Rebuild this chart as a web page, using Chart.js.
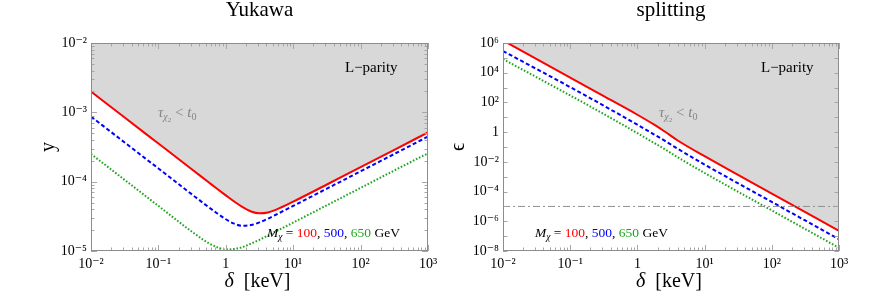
<!DOCTYPE html>
<html>
<head>
<meta charset="utf-8">
<title>Yukawa / splitting</title>
<script src="https://cdn.jsdelivr.net/npm/chart.js@4.4.1/dist/chart.umd.min.js"></script>
<style>
  html, body { margin: 0; padding: 0; background: #fff; }
  #wrap { position: relative; width: 888px; height: 294px; }
  .panel { position: absolute; top: 0; width: 444px; height: 294px; }
</style>
</head>
<body>
<div id="wrap">
  <div class="panel" style="left:0"><canvas id="yukawa" width="444" height="294"></canvas></div>
  <div class="panel" style="left:444px"><canvas id="splitting" width="444" height="294"></canvas></div>
</div>
<script>
// ---- data ----
const masses = ['100', '500', '650'];

// left panel: Yukawa coupling y vs delta [keV]
const deltaYukawa = [0.01, 0.0316, 0.1, 0.316, 0.562, 0.75, 1, 1.33, 1.78, 2.37, 3.16, 4.22, 5.62, 10, 31.6, 100, 316, 1000];
const yukawa100 = [2.0e-3, 8.4e-4, 3.55e-4, 1.5e-4, 9.72e-5, 7.83e-5, 6.34e-5, 5.17e-5, 4.29e-5, 3.72e-5, 3.50e-5, 3.60e-5, 3.96e-5, 5.15e-5, 9.1e-5, 1.62e-4, 2.88e-4, 5.13e-4];
const yukawa500 = [8.7e-4, 3.67e-4, 1.55e-4, 6.53e-5, 4.26e-5, 3.47e-5, 2.87e-5, 2.48e-5, 2.31e-5, 2.37e-5, 2.59e-5, 2.93e-5, 3.36e-5, 4.47e-5, 7.94e-5, 1.41e-4, 2.51e-4, 4.47e-4];
const yukawa650 = [2.51e-4, 1.06e-4, 4.47e-5, 1.89e-5, 1.29e-5, 1.13e-5, 1.05e-5, 1.07e-5, 1.14e-5, 1.28e-5, 1.45e-5, 1.67e-5, 1.93e-5, 2.57e-5, 4.57e-5, 8.13e-5, 1.45e-4, 2.57e-4];

// right panel: splitting epsilon vs delta [keV]
const deltaSplit = [0.01, 0.1, 0.316, 1, 1.78, 2.51, 3.98, 10, 100, 1000];
const split100 = [1.48e6, 4.68e3, 263, 14.8, 3.16, 1.15, 0.275, 0.024, 7.24e-5, 2.29e-7];
const split500 = [2.88e5, 1.07e3, 60.3, 3.16, 0.692, 0.275, 0.0759, 6.61e-3, 2.0e-5, 6.2e-8];
const split650 = [8.3e4, 295, 16.6, 0.851, 0.186, 0.0741, 0.0204, 1.78e-3, 5.37e-6, 1.64e-8];
const splitFloor = [1e-5, 1e-5];
const splitFloorDelta = [0.01, 1000];

// ticks
const xTickValues = [0.01, 0.1, 1, 10, 100, 1000];
const xTickLabels = ['10⁻²', '10⁻¹', '1', '10¹', '10²', '10³'];
const yukawaTickValues = [1e-5, 1e-4, 1e-3, 1e-2];
const yukawaTickLabels = ['10⁻⁵', '10⁻⁴', '10⁻³', '10⁻²'];
const splitTickValues = [1e-8, 1e-6, 1e-4, 1e-2, 1, 1e2, 1e4, 1e6];
const splitTickLabels = ['10⁻⁸', '10⁻⁶', '10⁻⁴', '10⁻²', '1', '10²', '10⁴', '10⁶'];

const RED = '#ff0000', BLUE = '#0000ff', GREEN = '#1ea51e', SHADE = '#d8d8d8';
const SERIF = '"Liberation Serif", "DejaVu Serif", serif';

const pts = (xs, ys) => xs.map((x, i) => ({ x: x, y: ys[i] }));

// frame + inward ticks, Mathematica style
const frameTicks = {
  id: 'frameTicks',
  afterDatasetsDraw(chart, args, o) {
    const { ctx, chartArea: a } = chart;
    const xs = chart.scales.x, ys = chart.scales.y;
    ctx.save();
    ctx.strokeStyle = '#a6a6a6';
    ctx.lineWidth = 1;
    ctx.beginPath();
    for (let e = -2; e <= 3; e++) {
      for (let m = 1; m <= 9; m++) {
        const v = m * Math.pow(10, e);
        if (v > 1000) break;
        const px = Math.round(xs.getPixelForValue(v)) + 0.5;
        const len = m === 1 ? 6 : 3.5;
        ctx.moveTo(px, a.bottom); ctx.lineTo(px, a.bottom - len);
        ctx.moveTo(px, a.top); ctx.lineTo(px, a.top + len);
      }
    }
    for (let e = o.yMin; e <= o.yMax; e++) {
      const ms = o.yMinor && e < o.yMax ? 9 : 1;
      for (let m = 1; m <= ms; m++) {
        const py = Math.round(ys.getPixelForValue(m * Math.pow(10, e))) + 0.5;
        const len = m === 1 ? (o.yMinor ? 6 : 4.5) : 3.5;
        ctx.moveTo(a.left, py); ctx.lineTo(a.left + len, py);
        ctx.moveTo(a.right, py); ctx.lineTo(a.right - len, py);
      }
    }
    ctx.stroke();
    ctx.strokeStyle = '#8c8c8c';
    ctx.strokeRect(a.left + 0.5, a.top + 0.5, a.right - a.left - 1, a.bottom - a.top - 1);
    ctx.restore();
  }
};

// text runs: [text, colour, italic, size, dy]
function runsWidth(ctx, runs) {
  let w = 0;
  for (const [t, , it, size] of runs) {
    ctx.font = (it ? 'italic ' : '') + size + 'px ' + SERIF;
    w += ctx.measureText(t).width;
  }
  return w;
}
function drawRuns(ctx, x, y, runs) {
  for (const r of runs) {
    const [t, col, it, size, dy] = r;
    ctx.font = (it ? 'italic ' : '') + size + 'px ' + SERIF;
    ctx.fillStyle = col;
    ctx.fillText(t, x, y + (dy || 0));
    x += ctx.measureText(t).width;
  }
}

const notes = {
  id: 'notes',
  afterDatasetsDraw(chart, args, o) {
    const ctx = chart.ctx;
    const a = chart.chartArea;
    ctx.save();
    ctx.textBaseline = 'alphabetic';
    drawRuns(ctx, o.parity[0], o.parity[1], [['L\u2212parity', '#000', false, 15]]);
    const g = '#858585';
    drawRuns(ctx, o.tau[0], o.tau[1], [
      ['τ', g, true, 15], ['χ', g, true, 10, 3], ['2', g, false, 7, 5],
      [' < ', g, false, 15], ['t', g, true, 15], ['0', g, false, 10, 3]
    ]);
    const fs = 13.5;
    drawRuns(ctx, o.mass[0], o.mass[1], [
      ['M', '#000', true, fs], ['χ', '#000', true, 9.5, 3], [' = ', '#000', false, fs],
      [masses[0], RED, false, fs], [', ', '#000', false, fs],
      [masses[1], BLUE, false, fs], [', ', '#000', false, fs],
      [masses[2], GREEN, false, fs], [' GeV', '#000', false, fs]
    ]);
    // x-axis title, italic delta
    const xt = [['δ', '#000', true, 20], ['  [keV]', '#000', false, 20]];
    const w = runsWidth(ctx, xt);
    drawRuns(ctx, (a.left + a.right) / 2 - 2 - w / 2, 287, xt);
    ctx.restore();
  }
};

function makeChart(id, cfg) {
  const datasets = [];
  if (cfg.floor) {
    datasets.push({
      data: pts(splitFloorDelta, splitFloor), borderColor: '#8f8f8f', borderWidth: 1,
      borderDash: [7, 3, 2, 3], pointRadius: 0, fill: false
    });
  }
  datasets.push(
    { data: pts(cfg.xs, cfg.series[0]), borderColor: RED, borderWidth: 2, pointRadius: 0,
      cubicInterpolationMode: 'monotone', fill: 'end', backgroundColor: SHADE },
    { data: pts(cfg.xs, cfg.series[1]), borderColor: BLUE, borderWidth: 2, borderDash: [4, 2.5],
      pointRadius: 0, cubicInterpolationMode: 'monotone', fill: false },
    { data: pts(cfg.xs, cfg.series[2]), borderColor: GREEN, borderWidth: 2, borderDash: [1.6, 1.8],
      pointRadius: 0, cubicInterpolationMode: 'monotone', fill: false }
  );
  return new Chart(document.getElementById(id), {
    type: 'line',
    data: { datasets },
    plugins: [frameTicks, notes],
    options: {
      responsive: false,
      animation: false,
      layout: { padding: { top: 0, left: 0, right: cfg.padRight, bottom: 0 } },
      scales: {
        x: {
          type: 'logarithmic', min: 0.01, max: 1000,
          afterBuildTicks: s => { s.ticks = xTickValues.map(v => ({ value: v })); },
          afterFit: s => { s.height = 43; },
          grid: { display: false, drawTicks: false },
          border: { display: false },
          ticks: {
            padding: 5, color: '#000', maxRotation: 0, autoSkip: false,
            font: { family: SERIF, size: 14 },
            callback: (v, i) => xTickLabels[i]
          },
          title: { display: false }
        },
        y: {
          type: 'logarithmic', min: cfg.yMin, max: cfg.yMax,
          afterBuildTicks: s => { s.ticks = cfg.yTicks.map(v => ({ value: v })); },
          afterFit: s => { s.width = cfg.yWidth; },
          grid: { display: false, drawTicks: false },
          border: { display: false },
          ticks: {
            padding: 4, color: '#000', autoSkip: false,
            font: { family: SERIF, size: 14 },
            callback: (v, i) => cfg.yLabels[i]
          },
          title: { display: true, text: cfg.yTitle, color: '#000',
                   font: { family: SERIF, size: 20, lineHeight: 1.2 }, padding: { top: cfg.yTitlePad, bottom: 0 } }
        }
      },
      plugins: {
        legend: { display: false },
        tooltip: { enabled: false },
        title: {
          display: true, text: cfg.title, fullSize: false, color: '#000',
          font: { family: SERIF, size: 21, weight: 'normal', lineHeight: 1.0 },
          padding: { top: 0, bottom: 22 }
        },
        frameTicks: cfg.ticks,
        notes: cfg.notes
      }
    }
  });
}

makeChart('yukawa', {
  title: 'Yukawa', xs: deltaYukawa, series: [yukawa100, yukawa500, yukawa650],
  yMin: 1e-5, yMax: 1e-2, yTicks: yukawaTickValues, yLabels: yukawaTickLabels,
  yTitle: 'y', yWidth: 91, yTitlePad: 37, padRight: 16,
  ticks: { yMin: -5, yMax: -2, yMinor: true },
  notes: { parity: [345, 72], tau: [158, 117], mass: [267, 237] }
});

makeChart('splitting', {
  title: 'splitting', xs: deltaSplit, series: [split100, split500, split650], floor: true,
  yMin: 1e-8, yMax: 1e6, yTicks: splitTickValues, yLabels: splitTickLabels,
  yTitle: 'ϵ', yWidth: 59, yTitlePad: 3, padRight: 49,
  ticks: { yMin: -8, yMax: 6, yMinor: false },
  notes: { parity: [317, 72], tau: [215, 117], mass: [91, 237] }
});
</script>
</body>
</html>
